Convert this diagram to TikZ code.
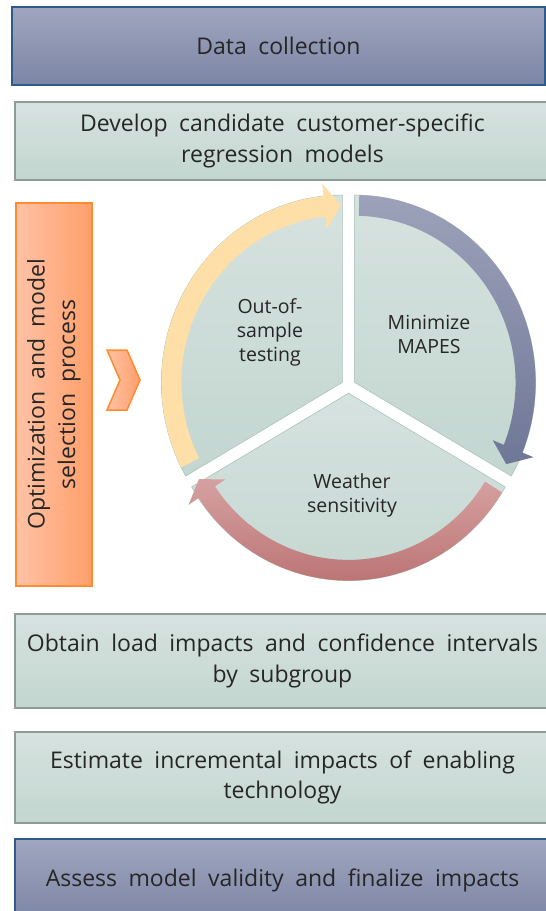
\documentclass[tikz,border=0pt]{standalone}
\usepackage{fontspec}
\setmainfont{Open Sans}
\usetikzlibrary{positioning}
\definecolor{SlateNavy}{HTML}{2D5B8C}
\definecolor{SlateTop}{HTML}{A0A6BF}
\definecolor{SlateBottom}{HTML}{7C85A5}
\definecolor{SageEdge}{HTML}{8E9B97}
\definecolor{SageTop}{HTML}{D6E2DF}
\definecolor{SageBottom}{HTML}{C3D6D0}
\definecolor{SageLine}{HTML}{A9C3BB}
\definecolor{TangerineEdge}{HTML}{FF8C2E}
\definecolor{PeachLight}{HTML}{FFC2A5}
\definecolor{PeachDeep}{HTML}{FF9F6B}
\definecolor{ButterArrow}{HTML}{FDDFA7}
\definecolor{DuskTop}{HTML}{9DA2BA}
\definecolor{DuskBottom}{HTML}{6F7797}
\definecolor{RoseTop}{HTML}{D6A1A1}
\definecolor{RoseBottom}{HTML}{BC7474}
\definecolor{InkGray}{HTML}{262626}

\newcommand{\boxfont}{\fontsize{23}{30.5}\selectfont\spaceskip=0.5em plus 0.1em\relax}
\newcommand{\cyclefont}{\fontsize{19.5}{24}\selectfont}

% arc arrow round a wedge: #1 apex offset, #2 tail angle, #3 head base, #4 tip, #5 colour
\newcommand{\cyclearrow}[5]{%
  \path[#5, shift={(#1)}] (#2:181) arc[start angle=#2, end angle=#3, radius=181]
    -- (#3:193) -- (#4:171) -- (#3:149) -- (#3:161)
    arc[start angle=#3, end angle=#2, radius=161] -- cycle;}

\tikzset{
  stagebox/.style={draw=SageEdge, line width=1.3pt, top color=SageTop, bottom color=SageBottom,
    minimum width=535pt, inner sep=0pt, align=center, text=InkGray, font=\boxfont},
  keybox/.style={stagebox, draw=SlateNavy, line width=1.6pt, top color=SlateTop, bottom color=SlateBottom},
  phasebox/.style={draw=TangerineEdge, line width=1.6pt, left color=PeachLight, right color=PeachDeep,
    rotate=90, minimum width=383pt, minimum height=76pt, inner sep=0pt, align=center,
    text=InkGray, font=\boxfont},
  chevronmark/.style={draw=TangerineEdge, line width=1.5pt, left color=PeachLight, right color=PeachDeep},
  cyclewedge/.style={draw=SageLine, line width=0.6pt, top color=SageTop, bottom color=SageBottom},
  cyclelabel/.style={align=center, text=InkGray, font=\cyclefont},
}

\begin{document}
\begin{tikzpicture}[x=1pt, y=1pt]
  \useasboundingbox (0,0) rectangle (546,-911);
  \clip (0,0) rectangle (546,-911);

  \node[keybox, minimum width=533pt, minimum height=78pt] (collect) at (278.5,-46) {Data collection};
  \node[stagebox, minimum height=78pt] (candidates) at (282.5,-141)
    {Develop candidate customer-specific\\regression models};

  \node[phasebox] (optimize) at (54,-394.5) {Optimization and model\\selection process};
  \filldraw[chevronmark] (107,-350) -- (127,-350) -- (140,-380) -- (127,-410)
    -- (107,-410) -- (120,-380) -- cycle;

  % three wedges with their arc arrows
  \begin{scope}[shift={(348.5,-386)}, yscale=1.035]
    \shadedraw[cyclewedge, shift={(150:7)}] (0,0) -- (90:181)
      arc[start angle=90, end angle=210, radius=181] -- cycle;
    \shadedraw[cyclewedge, shift={(30:7)}] (0,0) -- (-30:181)
      arc[start angle=-30, end angle=90, radius=181] -- cycle;
    \shadedraw[cyclewedge, shift={(270:7)}] (0,0) -- (210:181)
      arc[start angle=210, end angle=330, radius=181] -- cycle;
    \cyclearrow{150:7}{207}{96}{90.5}{fill=ButterArrow}
    \cyclearrow{30:7}{88.5}{-22}{-27.5}{top color=DuskTop, bottom color=DuskBottom}
    \cyclearrow{270:7}{-32}{-146}{-151}{top color=RoseTop, bottom color=RoseBottom}
  \end{scope}

  \node[cyclelabel] (outsample) at (270,-332) {Out-of-\\sample\\testing};
  \node[cyclelabel] (mapes) at (429,-334) {Minimize\\MAPES};
  \node[cyclelabel] (weather) at (352,-495) {Weather\\sensitivity};

  \node[stagebox, minimum height=94pt] (impacts) at (282.5,-661)
    {Obtain load impacts and confidence intervals\\by subgroup};
  \node[stagebox, minimum height=91pt] (incremental) at (282.5,-777.5)
    {Estimate incremental impacts of enabling\\technology};
  \node[keybox, minimum height=82pt] (validity) at (282.5,-880)
    {Assess model validity and finalize impacts};
\end{tikzpicture}
\end{document}
